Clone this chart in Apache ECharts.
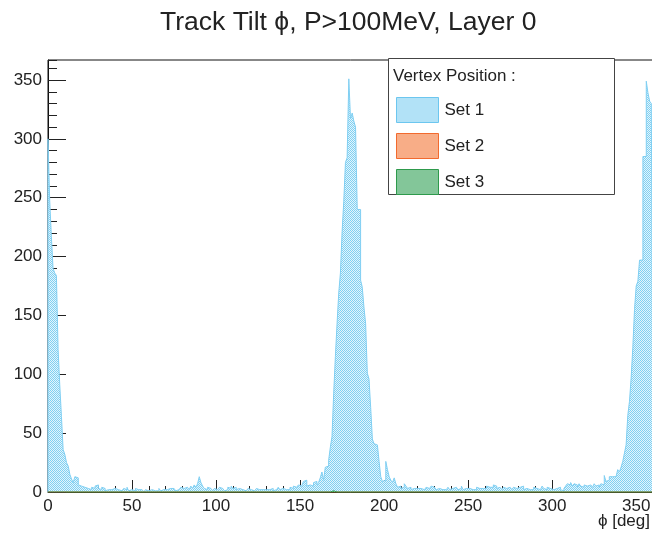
<!DOCTYPE html>
<html>
<head>
<meta charset="utf-8">
<script src="https://cdn.jsdelivr.net/npm/echarts@6/dist/echarts.min.js"></script>
<style>
html,body{margin:0;padding:0;background:#fff;}
#chart{width:652px;height:535px;}
</style>
</head>
<body>
<div id="chart"></div>
<script>
// ---- data (1-degree bins, lower edges 0..359) ----
const titleText = 'Track Tilt \u03D5, P>100MeV, Layer 0';
const xAxisTitle = '\u03D5 [deg]';
const legendTitle = 'Vertex Position :';
const seriesNames = ['Set 1', 'Set 2', 'Set 3'];
const xTickLabels = [0, 50, 100, 150, 200, 250, 300, 350];
const yTickLabels = [0, 50, 100, 150, 200, 250, 300, 350];
const binWidth = 1;

const set1Counts = [
  300, 248, 217, 190, 186, 184, 121, 91, 64, 36,
  32, 25, 22, 15, 11, 8, 13, 12, 6, 5,
  6, 4, 5, 3, 4, 2, 4, 3, 5, 6,
  3, 2, 4, 3, 1, 2, 3, 2, 1, 3,
  4, 2, 3, 1, 2, 3, 2, 4, 1, 2,
  2, 1, 3, 2, 1, 2, 1, 0, 2, 1,
  1, 2, 1, 1, 2, 1, 3, 1, 2, 1,
  2, 1, 3, 2, 3, 2, 1, 2, 3, 4,
  3, 2, 4, 3, 2, 5, 3, 6, 4, 7,
  13, 8, 5, 3, 2, 4, 3, 2, 1, 3,
  2, 3, 4, 3, 2, 1, 2, 4, 3, 5,
  3, 4, 2, 3, 4, 2, 3, 1, 2, 3,
  2, 3, 1, 2, 3, 2, 3, 2, 1, 2,
  3, 2, 2, 3, 1, 2, 3, 4, 2, 3,
  4, 2, 3, 2, 4, 3, 5, 4, 3, 6,
  5, 4, 9, 10, 5, 6, 7, 5, 8, 9,
  6, 8, 12, 17, 10, 21, 22, 27, 38, 47,
  84, 115, 143, 169, 186, 221, 247, 280, 284, 351,
  317, 322, 315, 310, 240, 240, 180, 174, 157, 143,
  101, 96, 72, 45, 41, 40, 39, 26, 13, 9,
  10, 26, 19, 13, 10, 8, 12, 7, 4, 5,
  3, 4, 7, 5, 3, 4, 2, 3, 4, 3,
  2, 3, 4, 2, 3, 4, 3, 2, 5, 4,
  3, 2, 3, 4, 2, 3, 2, 3, 4, 2,
  3, 2, 4, 3, 2, 3, 5, 2, 3, 2,
  3, 4, 2, 3, 2, 4, 3, 2, 3, 4,
  3, 5, 4, 3, 4, 6, 5, 3, 4, 3,
  2, 4, 3, 2, 4, 3, 2, 4, 3, 2,
  4, 3, 5, 2, 3, 4, 2, 3, 2, 4,
  3, 4, 2, 3, 5, 3, 2, 4, 3, 2,
  2, 1, 3, 2, 4, 2, 1, 3, 5, 7,
  6, 8, 5, 7, 6, 4, 7, 5, 4, 6,
  5, 4, 6, 5, 4, 7, 5, 6, 4, 7,
  6, 14, 9, 10, 13, 13, 14, 13, 14, 19,
  17, 21, 26, 33, 40, 65, 77, 97, 123, 155,
  175, 179, 197, 197, 285, 285, 349, 339, 332, 330
];

const set2Counts = [
  0,0,0,0,0,0,0,0,0,0, 0,0,0,0,0,0,0,0,0,0, 0,0,0,0,0,0,0,0,0,0,
  0,0,0,0,0,0,0,0,0,0, 0,0,0,0,0,0,0,0,0,0, 0,0,0,0,0,0,0,0,0,0,
  0,0,0,0,0,0,0,0,0,0, 0,0,0,0,0,0,0,0,0,0, 0,0,0,0,0,0,0,0,0,0,
  0,0,0,0,0,0,0,0,0,0, 0,0,0,0,0,0,0,0,0,0, 0,0,0,0,0,0,0,0,0,0,
  0,0,0,0,0,0,0,0,0,0, 0,0,0,0,0,0,0,0,0,0, 0,0,0,0,0,0,0,0,0,0,
  0,0,0,0,0,0,0,0,0,0, 0,0,0,0,0,0,0,0,0,0, 0,0,0,0,0,0,0,0,0,0,
  0,0,0,0,0,0,0,0,0,0, 0,0,0,0,0,0,0,0,0,0, 0,0,0,0,0,0,0,0,0,0,
  0,0,0,0,0,0,0,0,0,0, 0,0,0,0,0,0,0,0,0,0, 0,0,0,0,0,0,0,0,0,0,
  0,0,0,0,0,0,0,0,0,0, 0,0,0,0,0,0,0,0,0,0, 0,0,0,0,0,0,0,0,0,0,
  0,0,0,0,0,0,0,0,0,0, 0,0,0,0,0,0,0,0,0,0, 0,0,0,0,0,0,0,0,0,0,
  0,0,0,0,0,0,0,0,0,0, 0,0,0,0,0,0,0,0,0,0, 0,0,0,0,0,0,0,0,0,0,
  0,0,0,0,0,0,0,0,0,0, 0,0,0,0,0,0,0,0,0,0, 0,0,0,0,1,0,0,0,0,0
];

const set3Counts = [
  0,0,0,0,0,0,0,0,0,0, 0,0,0,0,0,0,0,0,0,0, 0,0,0,0,0,0,0,0,0,0,
  0,0,0,0,0,0,0,0,0,0, 0,0,0,0,0,0,0,0,0,0, 0,0,0,0,0,0,0,0,0,0,
  0,0,0,0,0,0,0,0,0,0, 0,0,0,0,0,0,0,0,0,0, 0,0,0,0,0,0,0,0,0,0,
  0,0,0,0,0,0,0,0,0,0, 0,0,0,0,0,0,0,0,0,0, 0,0,0,0,0,0,0,0,0,0,
  0,0,0,0,0,0,0,0,0,0, 0,0,0,0,0,0,0,0,0,0, 0,0,0,0,0,0,0,0,0,0,
  0,0,0,0,0,0,0,0,0,0, 0,0,0,0,0,0,0,0,0,1, 0,0,0,0,1,0,0,0,0,0,
  0,0,0,0,0,0,1,0,0,0, 0,0,0,0,0,0,0,0,0,0, 0,0,0,0,0,0,0,0,0,0,
  0,0,0,0,0,0,0,0,0,0, 0,0,0,0,0,0,0,0,0,0, 0,0,0,0,0,0,0,0,0,0,
  0,0,0,0,0,0,0,0,0,0, 0,0,0,0,0,0,0,0,0,0, 0,0,0,0,0,0,0,0,0,0,
  0,0,0,0,0,0,0,0,0,0, 0,0,0,0,0,0,0,0,0,0, 0,0,0,0,0,0,0,0,0,0,
  0,0,0,0,0,0,0,0,0,0, 0,0,0,0,0,0,0,0,0,0, 0,0,0,0,0,0,0,0,0,0,
  0,0,0,0,0,0,0,0,0,0, 0,0,0,0,0,0,0,0,0,0, 0,0,0,0,0,0,0,0,0,0
];

// ---- helpers ----
function histSteps(counts) {
  const pts = [[0, 0]];
  for (let i = 0; i < counts.length; i++) pts.push([i * binWidth, counts[i]]);
  const xEnd = counts.length * binWidth;
  pts.push([xEnd, counts[counts.length - 1]]);
  pts.push([xEnd, 0]);
  return pts;
}
function makePattern(fg, bg) {
  const c = document.createElement('canvas');
  c.width = 2; c.height = 2;
  const g = c.getContext('2d');
  g.fillStyle = bg; g.fillRect(0, 0, 2, 2);
  g.fillStyle = fg; g.fillRect(0, 0, 1, 1); g.fillRect(1, 1, 1, 1);
  return { image: c, repeat: 'repeat' };
}

const lineColors = ['#80cff2', '#f26a2e', '#2e9a4c'];
const fills = [
  makePattern('#80d0f2', '#e4f5fc'),
  makePattern('#f47e44', '#fcdccb'),
  makePattern('#38a45c', '#cfe9d6')
];
const counts = [set1Counts, set2Counts, set3Counts];

const FONT = 'Liberation Sans, Arial, Helvetica, sans-serif';
const chart = echarts.init(document.getElementById('chart'), null, { renderer: 'canvas' });

const series = seriesNames.map((name, k) => ({
  name: name,
  type: 'line',
  step: 'end',
  xAxisIndex: 0,
  yAxisIndex: 0,
  data: histSteps(counts[k]),
  showSymbol: false,
  symbol: 'none',
  lineStyle: { color: lineColors[k], width: 1 },
  itemStyle: { color: lineColors[k] },
  areaStyle: { color: fills[k], opacity: 1 },
  z: 2 + k,
  silent: true
}));

const option = {
  animation: false,
  backgroundColor: '#ffffff',
  title: {
    text: titleText,
    left: 160,
    top: 9,
    padding: 0,
    textStyle: { fontFamily: FONT, fontSize: 26.5, fontWeight: 'normal', color: '#222' }
  },
  grid: {
    left: 48, top: 60, width: 605, height: 432,
    show: true, borderColor: '#111', borderWidth: 1, backgroundColor: 'transparent',
    outerBoundsMode: 'none', containLabel: false
  },
  xAxis: [
    {
      type: 'value', position: 'bottom', min: 0, max: 360, interval: 50,
      axisLine: { show: true, lineStyle: { color: '#1e3a1e', width: 1 } },
      axisTick: { show: true, inside: true, length: 12, lineStyle: { color: '#222' } },
      axisLabel: {
        show: true, margin: 6, fontFamily: FONT, fontSize: 17, color: '#222',
        showMaxLabel: false,
        formatter: v => (xTickLabels.indexOf(v) >= 0 ? String(v) : '')
      },
      splitLine: { show: false }
    },
    {
      type: 'value', position: 'bottom', min: 0, max: 360, interval: 10,
      axisLine: { show: false },
      axisTick: { show: true, inside: true, length: 6, lineStyle: { color: '#222' } },
      axisLabel: { show: false },
      splitLine: { show: false }
    }
  ],
  yAxis: [
    {
      type: 'value', position: 'left', min: 0, max: 367, interval: 50,
      axisLine: { show: true, lineStyle: { color: '#111', width: 1 } },
      axisTick: { show: true, inside: true, length: 18, lineStyle: { color: '#222' } },
      axisLabel: {
        show: true, margin: 6, fontFamily: FONT, fontSize: 17, color: '#222',
        showMaxLabel: false,
        formatter: v => (yTickLabels.indexOf(v) >= 0 ? String(v) : '')
      },
      splitLine: { show: false }
    },
    {
      type: 'value', position: 'left', min: 0, max: 367, interval: 10,
      axisLine: { show: false },
      axisTick: { show: true, inside: true, length: 9, lineStyle: { color: '#222' } },
      axisLabel: { show: false },
      splitLine: { show: false }
    }
  ],
  legend: {
    orient: 'vertical',
    left: 396, top: 97,
    padding: 0,
    itemWidth: 42, itemHeight: 25, itemGap: 10,
    icon: 'rect',
    selectedMode: false,
    z: 20,
    textStyle: { fontFamily: FONT, fontSize: 17, color: '#222', padding: [0, 0, 3, 1] },
    data: seriesNames.map((n, k) => ({
      name: n,
      icon: 'rect',
      itemStyle: { color: fills[k], borderColor: k === 0 ? '#6cc6ef' : lineColors[k], borderWidth: 1 }
    }))
  },
  graphic: [
    {
      type: 'rect', z: 10,
      shape: { x: 388.5, y: 58.5, width: 226, height: 136 },
      style: { fill: '#fff', stroke: '#444', lineWidth: 1 }
    },
    {
      type: 'text', z: 21, left: 393, top: 68,
      style: { text: legendTitle, font: '17px ' + FONT, fill: '#222' }
    },
    {
      type: 'text', z: 21, right: 2, top: 513,
      style: { text: xAxisTitle, font: '17px ' + FONT, fill: '#222' }
    }
  ],
  series: series
};
chart.setOption(option);
</script>
</body>
</html>
